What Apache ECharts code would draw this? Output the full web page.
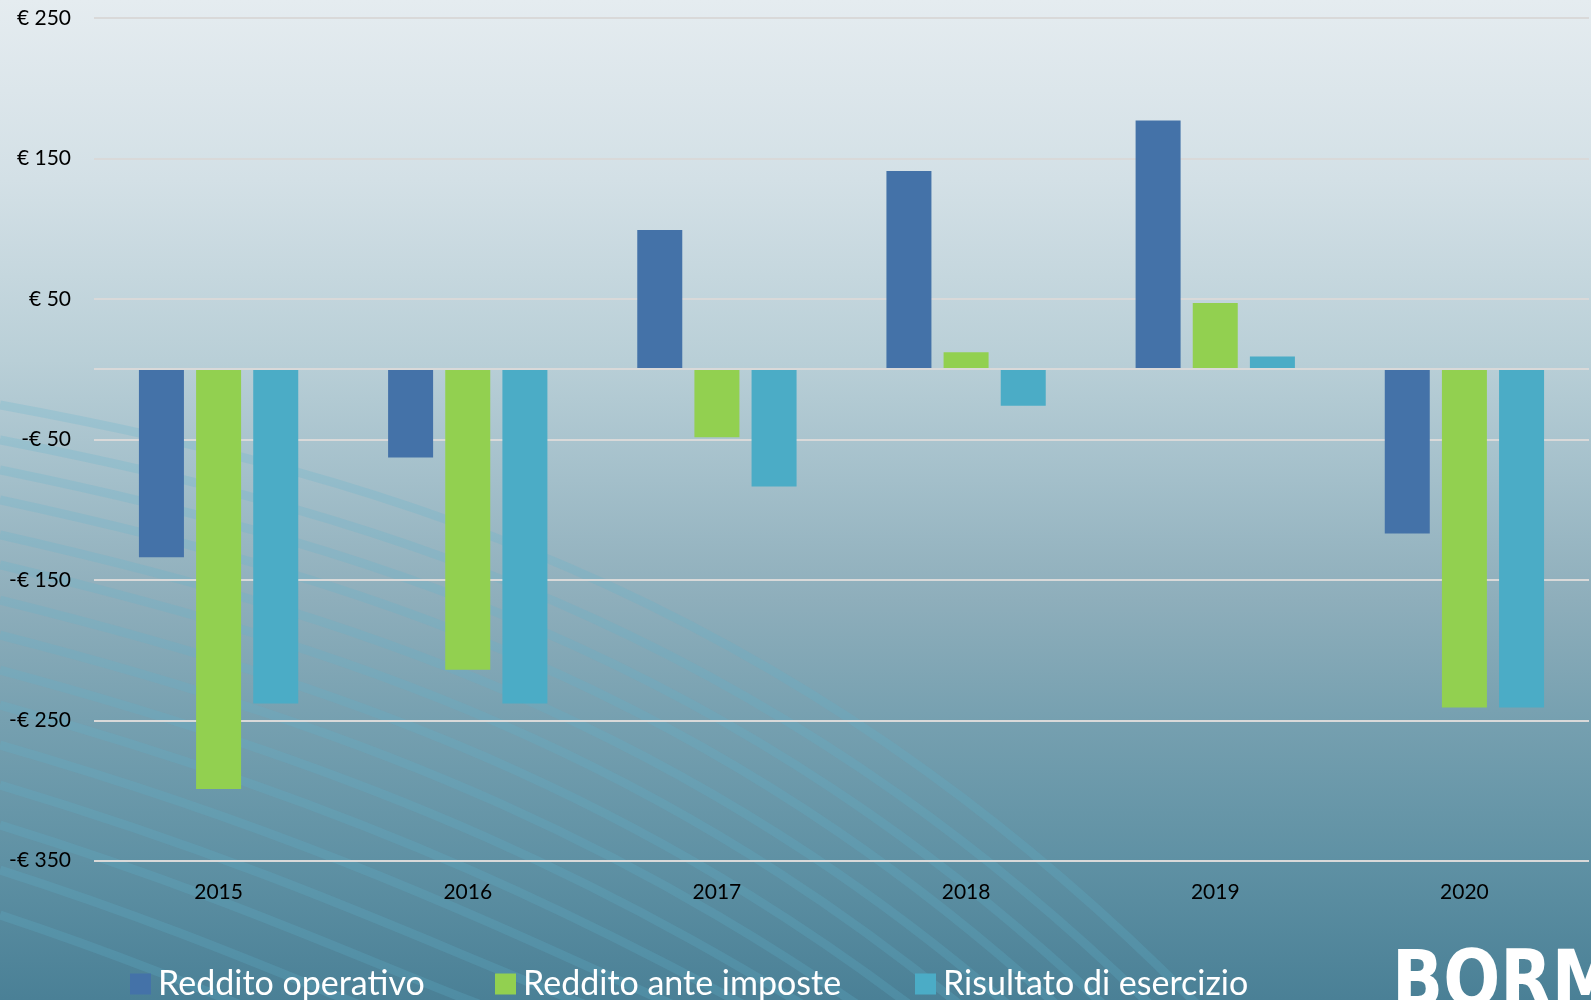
<!DOCTYPE html>
<html>
<head>
<meta charset="utf-8">
<script src="https://cdn.jsdelivr.net/npm/echarts@6/dist/echarts.min.js"></script>
<style>
html,body{margin:0;padding:0;}
#chart{width:1591px;height:1000px;background:linear-gradient(to bottom,#e5ecf0 0%,#d3e0e6 18%,#b9cfd7 36%,#a3bfca 48%,#8eaebb 60%,#76a0b0 72%,#5f91a4 86%,#4a8096 100%);}
</style>
</head>
<body>
<div id="chart"></div>
<script>
var categories = ['2015','2016','2017','2018','2019','2020'];
var redditoOperativo = [-134, -63, 99, 141, 177, -117];
var redditoAnteImposte = [-299, -214, -48.5, 12, 47, -241];
var risultatoEsercizio = [-238, -238, -83.5, -26, 9, -241];
var seriesNames = ['Reddito operativo','Reddito ante imposte','Risultato di esercizio'];
var colors = ['#4472a8','#92d050','#4bacc6'];

function fmt(v){
  if (v < 0) return '-€ ' + Math.abs(v);
  return '€ ' + v;
}

// decorative swirl lines in the background
var swirlStarts = [405,440,470,500,535,565,600,635,670,705,745,785,825,870,915];
var graphics = [];
swirlStarts.forEach(function(y0, i){
  graphics.push({
    type:'bezierCurve', z:0, silent:true,
    shape:{x1:0,y1:y0,cpx1:380,cpy1:y0+70+i*4,cpx2:820-i*25,cpy2:y0+190+i*3,x2:1250-i*45,y2:1060},
    style:{stroke:'rgba(95,180,205,0.24)',lineWidth:9,fill:null}
  });
});
graphics.push({
  type:'text', x:1392, y:947, z:10, silent:true, scaleX:0.86, scaleY:1,
  style:{text:'BORM', fill:'#ffffff', font:'900 78px "DejaVu Sans"', textVerticalAlign:'top'}
});

var chart = echarts.init(document.getElementById('chart'));
var legendText = {color:'#ffffff', fontSize:34, fontFamily:'Lato', padding:[0,0,0,2]};
chart.setOption({
  backgroundColor:'transparent',
  textStyle:{fontFamily:'Lato'},
  animation:false,
  graphic:graphics,
  grid:{left:94, right:2, top:18, bottom:139.3, containLabel:false},
  legend:[
    {data:[seriesNames[0]], left:125, top:962, itemWidth:21, itemHeight:21, icon:'rect', textStyle:legendText},
    {data:[seriesNames[1]], left:490, top:962, itemWidth:21, itemHeight:21, icon:'rect', textStyle:legendText},
    {data:[seriesNames[2]], left:910, top:962, itemWidth:21, itemHeight:21, icon:'rect', textStyle:legendText}
  ],
  xAxis:{
    type:'category', data:categories,
    axisLine:{show:false}, axisTick:{show:false},
    axisLabel:{color:'#000000', fontSize:21, margin:21, fontFamily:'Lato'}
  },
  yAxis:{
    type:'value', min:-350, max:250, interval:100,
    axisLine:{show:false}, axisTick:{show:false},
    axisLabel:{color:'#000000', fontSize:21, margin:23, fontFamily:'Lato', formatter:fmt},
    splitLine:{lineStyle:{color:'#d9d9d9', width:2}}
  },
  series:[
    {name:seriesNames[0], type:'bar', data:redditoOperativo, barWidth:45, barGap:'27%',
     itemStyle:{color:colors[0]},
     markLine:{silent:true, symbol:'none', label:{show:false},
       lineStyle:{color:'#d9d9d9', width:2, type:'solid'}, data:[{yAxis:0}]}},
    {name:seriesNames[1], type:'bar', data:redditoAnteImposte, barWidth:45, barGap:'27%',
     itemStyle:{color:colors[1]}},
    {name:seriesNames[2], type:'bar', data:risultatoEsercizio, barWidth:45, barGap:'27%',
     itemStyle:{color:colors[2]}}
  ]
});
</script>
</body>
</html>
